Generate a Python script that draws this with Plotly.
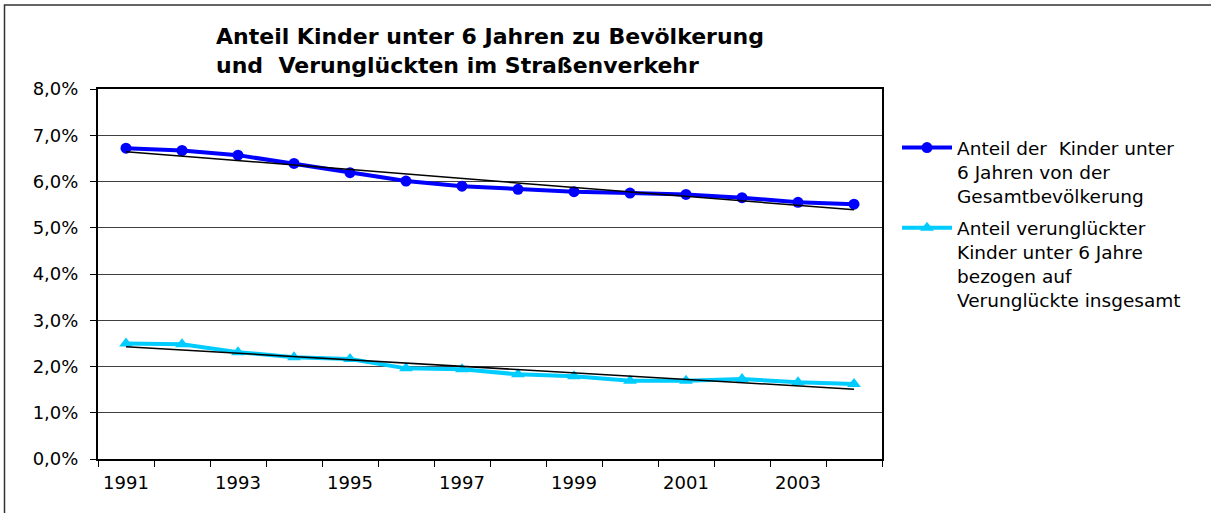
import numpy as np
import plotly.graph_objects as go

years = list(range(1991, 2005))
anteil_bevoelkerung = [6.72, 6.67, 6.57, 6.39, 6.19, 6.01, 5.90, 5.83, 5.78, 5.75, 5.72, 5.65, 5.55, 5.51]
anteil_verunglueckte = [2.50, 2.48, 2.31, 2.20, 2.16, 1.96, 1.94, 1.83, 1.79, 1.69, 1.69, 1.73, 1.66, 1.62]
name_bev = "Anteil der\u00a0 Kinder unter<br>6 Jahren von der<br>Gesamtbevölkerung"
name_ver = "Anteil verunglückter<br>Kinder unter 6 Jahre<br>bezogen auf<br>Verunglückte insgesamt"
title_text = "<b>Anteil Kinder unter 6 Jahren zu Bevölkerung<br>und\u00a0 Verunglückten im Straßenverkehr</b>"
y_ticks = [0, 1, 2, 3, 4, 5, 6, 7, 8]
y_ticktext = ["0,0%", "1,0%", "2,0%", "3,0%", "4,0%", "5,0%", "6,0%", "7,0%", "8,0%"]
x_labels = [1991, 1993, 1995, 1997, 1999, 2001, 2003]

FONT = "DejaVu Sans, Verdana, sans-serif"

def trend(vals):
    k, d = np.polyfit(years, vals, 1)
    return [k * y + d for y in years]

fig = go.Figure()
fig.add_trace(go.Scatter(x=years, y=anteil_bevoelkerung, name=name_bev, mode="lines+markers",
                         line=dict(color="#0000FF", width=4), marker=dict(symbol="circle", size=11, color="#0000FF"),
                         legendgroup="a"))
fig.add_trace(go.Scatter(x=years, y=anteil_verunglueckte, name=name_ver, mode="lines+markers",
                         line=dict(color="#00CCFF", width=4), marker=dict(symbol="triangle-up", size=12, color="#00CCFF"),
                         legendgroup="b"))
fig.add_trace(go.Scatter(x=years, y=trend(anteil_bevoelkerung), mode="lines", showlegend=False,
                         line=dict(color="black", width=1.5)))
fig.add_trace(go.Scatter(x=years, y=trend(anteil_verunglueckte), mode="lines", showlegend=False,
                         line=dict(color="black", width=1.5)))

L, R, T, B = 98, 882, 89, 459
W, H = 1211, 513
pw, ph = R - L, B - T

def px(x):
    return (x - L) / pw

def py(y):
    return (B - y) / ph

fig.update_layout(
    width=W, height=H,
    margin=dict(l=L, r=W - R, t=T, b=H - B, pad=0),
    paper_bgcolor="white", plot_bgcolor="white",
    font=dict(family=FONT, size=18, color="black"),
    showlegend=True,
    legend=dict(x=px(897), y=py(129), xanchor="left", yanchor="top",
                font=dict(family=FONT, size=18.5, color="black"),
                valign="top", traceorder="grouped", tracegroupgap=5, itemwidth=50,
                bgcolor="rgba(0,0,0,0)"),
    annotations=[dict(text=title_text, xref="paper", yref="paper", x=0.5, y=py(51),
                      xanchor="center", yanchor="middle", align="left", showarrow=False,
                      font=dict(family=FONT, size=22, color="black"))],
    shapes=[dict(type="rect", xref="paper", yref="paper", x0=px(4.5), y0=py(530), x1=px(1230), y1=py(5),
                 line=dict(color="#333333", width=1.5), layer="below")],
)
fig.update_xaxes(range=[1990.5, 2004.5], tickmode="array", tickvals=x_labels,
                 ticktext=[str(v) for v in x_labels], ticks="", showgrid=False,
                 showline=True, linecolor="black", linewidth=2, mirror=True, zeroline=False,
                 tickfont=dict(family=FONT, size=18), ticklabelstandoff=6,
                 minor=dict(tickmode="linear", tick0=1990.5, dtick=1, ticks="outside", ticklen=6,
                            tickcolor="black", tickwidth=1, showgrid=False))
fig.update_yaxes(range=[0, 8], tickmode="array", tickvals=y_ticks, ticktext=y_ticktext,
                 ticks="outside", ticklen=6, tickcolor="black", showgrid=True, gridcolor="#404040",
                 gridwidth=1, showline=True, linecolor="black", linewidth=2, mirror=True,
                 zeroline=False, tickfont=dict(family=FONT, size=18), ticklabelstandoff=8)

fig.write_html("out.html", config={"displayModeBar": False},
               post_script="document.body.style.margin='0';")
